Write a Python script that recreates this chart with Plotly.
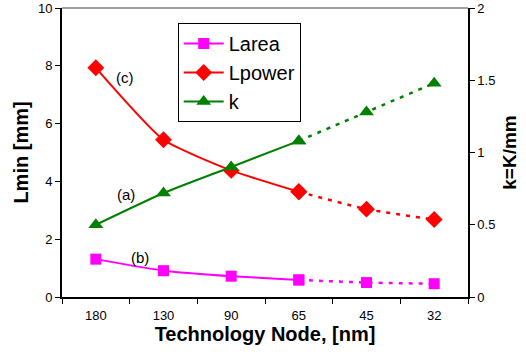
import plotly.graph_objects as go

nodes = ["180", "130", "90", "65", "45", "32"]
larea = [1.31, 0.91, 0.72, 0.59, 0.50, 0.46]
lpower = [7.93, 5.44, 4.38, 3.64, 3.04, 2.68]
k_vals = [0.50, 0.72, 0.90, 1.08, 1.28, 1.48]

FONT = "Liberation Sans, Arial, sans-serif"
series = [
    ("Larea", larea, "#FF00FF", "square", 11, "y"),
    ("Lpower", lpower, "#FF0000", "diamond", 13, "y"),
    ("k", k_vals, "#008000", "triangle-up", 13, "y2"),
]

fig = go.Figure()
for name, vals, color, sym, size, ax in series:
    fig.add_trace(go.Scatter(
        x=nodes[:4], y=vals[:4], name=name, mode="lines+markers", yaxis=ax,
        line=dict(color=color, width=2, shape="spline", smoothing=0.5),
        marker=dict(symbol=sym, size=size, color=color), showlegend=True))
    fig.add_trace(go.Scatter(
        x=nodes[3:], y=vals[3:], name=name, mode="lines+markers", yaxis=ax,
        line=dict(color=color, width=2.5, dash="4px,6px", shape="spline", smoothing=0.5),
        marker=dict(symbol=sym, size=size, color=color), showlegend=False))

# annotation labels placed by category index (0 = first node)
labels = [("(c)", 0, 7.6, 29), ("(a)", 0, 3.53, 30), ("(b)", 0, 1.38, 44)]
for txt, xi, yv, xs in labels:
    fig.add_annotation(x=xi, y=yv, xref="x", yref="y", text=txt, showarrow=False, xshift=xs,
                       font=dict(family=FONT, size=15, color="black"))

fig.add_shape(type="line", xref="paper", yref="paper", x0=0, x1=1, y0=1, y1=1,
              line=dict(color="#808080", width=1.5))

fig.update_layout(
    width=526, height=356,
    margin=dict(l=62, r=58, t=8, b=59, autoexpand=False),
    paper_bgcolor="white", plot_bgcolor="white",
    font=dict(family=FONT, size=13, color="black"),
    xaxis=dict(type="category", categoryorder="array", categoryarray=nodes,
               range=[-0.5, 5.5], tickson="boundaries", ticks="outside", ticklen=5,
               tickcolor="black", showline=True, linecolor="black", linewidth=2,
               showgrid=False, tickfont=dict(size=13), tickangle=0, ticklabelstandoff=5,
               title=dict(text="<b>Technology Node, [nm]</b>", font=dict(size=20), standoff=2)),
    yaxis=dict(range=[0, 10], dtick=2, ticks="outside", ticklen=5, tickcolor="black",
               showline=True, linecolor="black", linewidth=2, showgrid=False, zeroline=False,
               tickfont=dict(size=13),
               title=dict(text="<b>Lmin [mm]</b>", font=dict(size=20), standoff=4)),
    yaxis2=dict(range=[0, 2], dtick=0.5, overlaying="y", side="right", ticks="outside",
                ticklen=5, tickcolor="black", showline=True, linecolor="black", linewidth=1.5,
                showgrid=False, zeroline=False, tickfont=dict(size=13),
                title=dict(text="<b>k=K/mm</b>", font=dict(size=19), standoff=8)),
    legend=dict(x=0.285, y=0.948, xanchor="left", yanchor="top", bgcolor="white",
                bordercolor="black", borderwidth=1, font=dict(size=20),
                itemwidth=40, tracegroupgap=0),
)

fig.write_html("out.html", config={"displayModeBar": False},
               post_script="document.body.style.margin='0';")
